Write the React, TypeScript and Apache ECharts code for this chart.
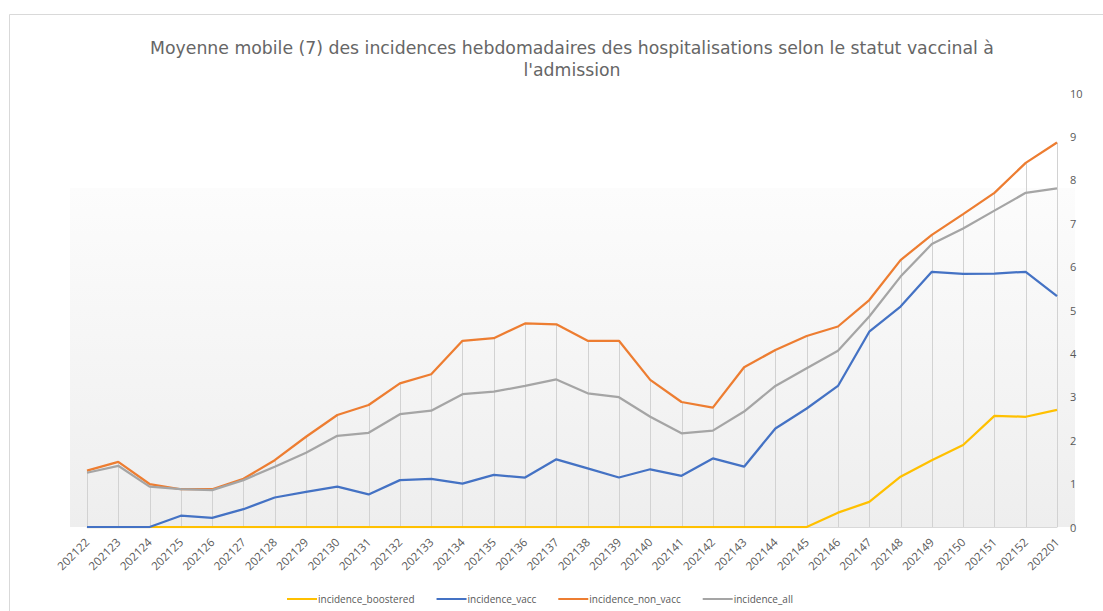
import React, { useEffect, useRef } from "react";
import * as echarts from "echarts";

const categories = [
  "202122", "202123", "202124", "202125", "202126", "202127", "202128", "202129",
  "202130", "202131", "202132", "202133", "202134", "202135", "202136", "202137",
  "202138", "202139", "202140", "202141", "202142", "202143", "202144", "202145",
  "202146", "202147", "202148", "202149", "202150", "202151", "202152", "202201",
];

const boostered = [
  0, 0, 0, 0, 0, 0, 0, 0, 0, 0, 0, 0, 0, 0, 0, 0,
  0, 0, 0, 0, 0, 0, 0, 0, 0.33, 0.58, 1.16, 1.54, 1.89, 2.56, 2.54, 2.7,
];

const vacc = [
  0, 0, 0, 0.26, 0.21, 0.41, 0.68, 0.81, 0.93, 0.75, 1.08, 1.11, 1.0, 1.2, 1.14, 1.56,
  1.35, 1.14, 1.33, 1.18, 1.58, 1.39, 2.27, 2.73, 3.25, 4.5, 5.08, 5.88, 5.83, 5.84, 5.88, 5.32,
];

const nonVacc = [
  1.3, 1.5, 0.99, 0.87, 0.87, 1.11, 1.54, 2.08, 2.58, 2.81, 3.31, 3.52, 4.29, 4.35, 4.69, 4.67,
  4.29, 4.29, 3.39, 2.88, 2.75, 3.68, 4.08, 4.4, 4.62, 5.23, 6.15, 6.73, 7.21, 7.7, 8.39, 8.86,
];

const all = [
  1.25, 1.41, 0.93, 0.87, 0.85, 1.08, 1.39, 1.71, 2.1, 2.17, 2.6, 2.68, 3.06, 3.12, 3.25, 3.4,
  3.08, 2.99, 2.54, 2.16, 2.22, 2.66, 3.25, 3.66, 4.06, 4.85, 5.77, 6.52, 6.88, 7.29, 7.7, 7.8,
];

const title =
  "Moyenne mobile (7) des incidences hebdomadaires des hospitalisations selon le statut vaccinal à\nl'admission";

const FONT = "'Open Sans', 'Noto Sans', sans-serif";
const TITLE_FONT = "'DejaVu Sans', 'Open Sans', sans-serif";
const TEXT = "#595959";

export default function App() {
  const ref = useRef<HTMLDivElement>(null);

  useEffect(() => {
    if (!ref.current) return;
    const chart = echarts.init(ref.current, undefined, { renderer: "svg" });
    const tops = categories.map((_, i) =>
      Math.max(boostered[i], vacc[i], nonVacc[i], all[i])
    );
    const lineSeries = (name: string, data: number[], color: string) => ({
      name,
      type: "line",
      data,
      symbol: "none",
      lineStyle: { color, width: 2.25 },
      itemStyle: { color },
      z: 3,
    });
    chart.setOption({
      animation: false,
      backgroundColor: "#ffffff",
      textStyle: { fontFamily: FONT },
      title: {
        text: title,
        left: 567,
        top: 32,
        textAlign: "center",
        textStyle: {
          fontFamily: TITLE_FONT,
          fontSize: 17.3,
          fontWeight: "normal",
          color: "#666666",
          lineHeight: 22,
        },
      },
      graphic: [
        {
          type: "rect",
          z: -10,
          silent: true,
          shape: { x: 9.5, y: 14.5, width: 1110, height: 620 },
          style: { fill: "#ffffff", stroke: "#d9d9d9", lineWidth: 1 },
        },
        {
          type: "rect",
          z: -5,
          silent: true,
          shape: { x: 70, y: 188, width: 1005, height: 339 },
          style: {
            fill: new echarts.graphic.LinearGradient(0, 0, 0, 1, [
              { offset: 0, color: "#fcfcfc" },
              { offset: 1, color: "#eeeeee" },
            ]),
          },
        },
      ],
      legend: {
        data: [
          "incidence_boostered",
          "incidence_vacc",
          "incidence_non_vacc",
          "incidence_all",
        ],
        left: 282,
        top: 589,
        icon: "rect",
        itemWidth: 30,
        itemHeight: 2,
        itemGap: 22,
        textStyle: { fontFamily: FONT, fontSize: 10, color: TEXT, padding: [0, 0, 0, -4] },
      },
      grid: { left: 87, right: 46, top: 93, bottom: 84 },
      xAxis: {
        type: "category",
        data: categories,
        boundaryGap: false,
        axisLine: { show: true, lineStyle: { color: "#d9d9d9", width: 1 } },
        axisTick: { show: false },
        axisLabel: {
          rotate: 45,
          interval: 0,
          margin: 13,
          fontFamily: FONT,
          fontSize: 11.5,
          color: TEXT,
        },
        splitLine: { show: false },
      },
      yAxis: {
        type: "value",
        position: "right",
        min: 0,
        max: 10,
        interval: 1,
        axisLine: { show: false },
        axisTick: { show: false },
        splitLine: { show: false },
        axisLabel: {
          margin: 13,
          fontFamily: FONT,
          fontSize: 11,
          color: TEXT,
        },
      },
      series: [
        {
          name: "droplines",
          type: "custom",
          data: tops.map((v, i) => [i, v]),
          z: 1,
          silent: true,
          renderItem: (_params: any, api: any) => {
            const p = api.coord([api.value(0), api.value(1)]);
            const b = api.coord([api.value(0), 0]);
            const x = Math.round(p[0]) + 0.5;
            return {
              type: "line",
              shape: { x1: x, y1: p[1], x2: x, y2: b[1] },
              style: { stroke: "#d2d2d2", lineWidth: 1 },
            };
          },
        },
        lineSeries("incidence_boostered", boostered, "#FFC000"),
        lineSeries("incidence_vacc", vacc, "#4472C4"),
        lineSeries("incidence_non_vacc", nonVacc, "#ED7D31"),
        lineSeries("incidence_all", all, "#A5A5A5"),
      ],
    });
    return () => chart.dispose();
  }, []);

  return (
    <div
      ref={ref}
      style={{ position: "fixed", left: 0, top: 0, width: 1103, height: 611 }}
    />
  );
}
